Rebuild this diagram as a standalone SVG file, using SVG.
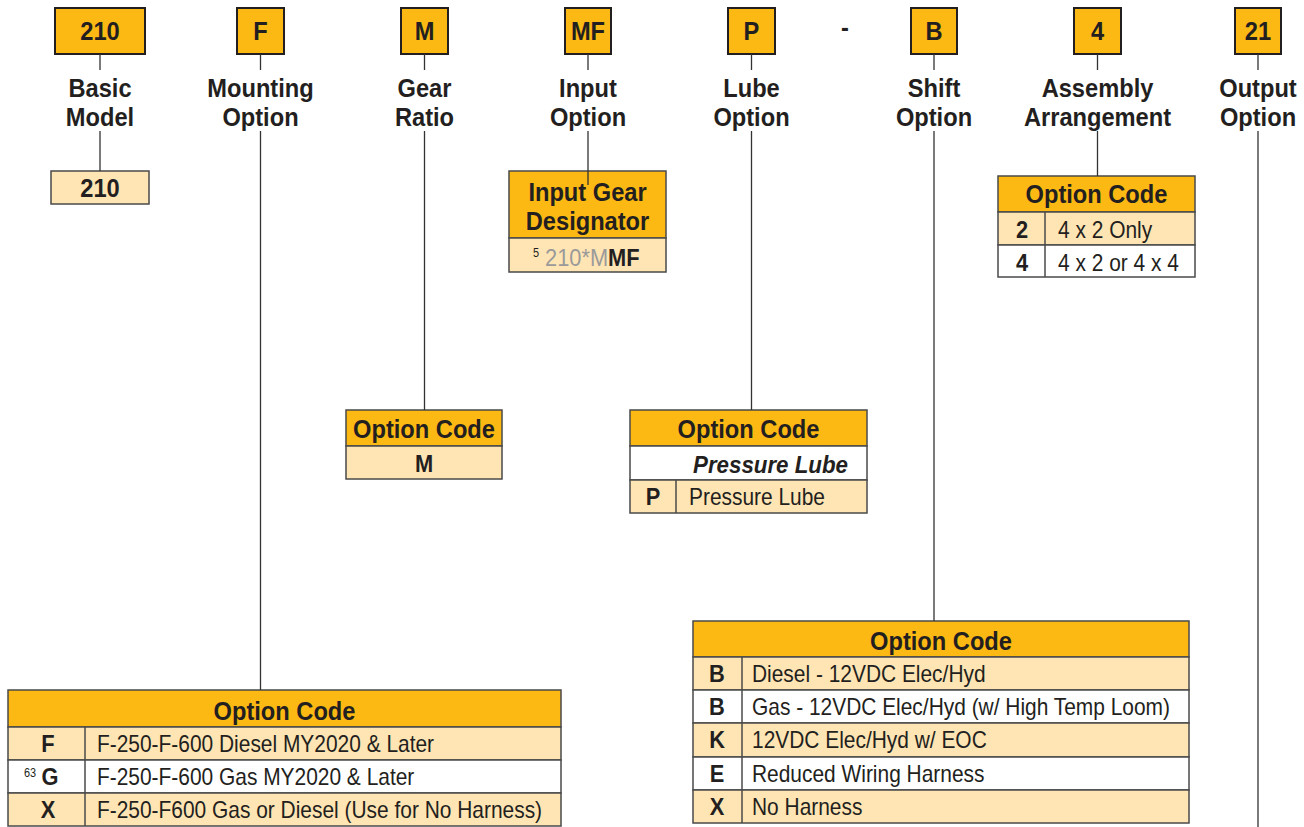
<svg xmlns="http://www.w3.org/2000/svg" width="1304" height="827" viewBox="0 0 1304 827">
<style>
.hb{fill:#FDB913;stroke:#231F20;stroke-width:2}
.or{fill:#FDB913;stroke:#4a4a4a;stroke-width:1.5}
.pl{fill:#FFE5B4;stroke:#4a4a4a;stroke-width:1.5}
.wh{fill:#FFFFFF;stroke:#4a4a4a;stroke-width:1.5}
.dv{stroke:#4a4a4a;stroke-width:1.5}
text{font-family:"Liberation Sans",Arial,sans-serif;fill:#231F20}
.h{font-size:26px;font-weight:bold;text-anchor:middle;transform-box:fill-box;transform-origin:center;transform:scaleX(0.91)}
.k{font-size:24px;font-weight:bold;text-anchor:middle;transform-box:fill-box;transform-origin:center;transform:scaleX(0.91)}
.r{font-size:23px;transform-box:fill-box;transform-origin:left center;transform:scaleX(0.91)}
.sup{font-size:12px;transform-box:fill-box;transform-origin:left center;transform:scaleX(0.91)}
.cn{stroke:#333333;stroke-width:1.3;fill:none}
</style>
<rect width="1304" height="827" fill="#FFFFFF"/>

<g id="basic-model">
<rect class="hb" x="55" y="8" width="90" height="46"/>
<text class="h" x="100" y="40">210</text>
<text class="h" x="100" y="97">Basic</text>
<text class="h" x="100" y="126">Model</text>
<rect class="pl" x="51" y="171" width="98" height="33"/>
<text class="h" x="100" y="197">210</text>
</g>

<g id="mounting-option">
<rect class="hb" x="237" y="8" width="47" height="46"/>
<text class="h" x="260.5" y="40">F</text>
<text class="h" x="260.5" y="97">Mounting</text>
<text class="h" x="260.5" y="126">Option</text>
</g>

<g id="gear-ratio">
<rect class="hb" x="401" y="8" width="47" height="46"/>
<text class="h" x="424.5" y="40">M</text>
<text class="h" x="424.5" y="97">Gear</text>
<text class="h" x="424.5" y="126">Ratio</text>
</g>

<g id="input-option">
<rect class="hb" x="565" y="8" width="46" height="46"/>
<text class="h" x="588" y="40">MF</text>
<text class="h" x="588" y="97">Input</text>
<text class="h" x="588" y="126">Option</text>
</g>

<g id="lube-option">
<rect class="hb" x="728" y="8" width="47" height="46"/>
<text class="h" x="751.5" y="40">P</text>
<text class="h" x="751.5" y="97">Lube</text>
<text class="h" x="751.5" y="126">Option</text>
</g>

<g id="dash">
<text class="h" x="845" y="36">-</text>
</g>

<g id="shift-option">
<rect class="hb" x="911" y="8" width="46" height="46"/>
<text class="h" x="934" y="40">B</text>
<text class="h" x="934" y="97">Shift</text>
<text class="h" x="934" y="126">Option</text>
</g>

<g id="assembly-arrangement">
<rect class="hb" x="1074" y="8" width="47" height="46"/>
<text class="h" x="1097.5" y="40">4</text>
<text class="h" x="1097.5" y="97">Assembly</text>
<text class="h" x="1097.5" y="126">Arrangement</text>
</g>

<g id="output-option">
<rect class="hb" x="1235" y="8" width="46" height="46"/>
<text class="h" x="1258" y="40">21</text>
<text class="h" x="1258" y="97">Output</text>
<text class="h" x="1258" y="126">Option</text>
</g>

<g id="input-gear-designator">
<rect class="or" x="509" y="171" width="157" height="67"/>
<text class="h" x="587.5" y="201">Input Gear</text>
<text class="h" x="587.5" y="230">Designator</text>
<rect class="pl" x="509" y="238" width="157" height="34"/>
<text class="sup" x="533" y="257">5</text>
<text class="r" x="545" y="266" style="font-size:24px;fill:#9A9A9A">210*M<tspan style="font-weight:bold;fill:#231F20">MF</tspan></text>
</g>

<g id="assembly-table">
<rect class="or" x="998" y="176" width="197" height="36"/>
<text class="h" x="1096.5" y="203">Option Code</text>
<rect class="pl" x="998" y="212" width="197" height="33"/>
<rect class="wh" x="998" y="245" width="197" height="32"/>
<line class="dv" x1="1045" y1="212" x2="1045" y2="277"/>
<text class="k" x="1022" y="238">2</text>
<text class="r" x="1058" y="238">4 x 2 Only</text>
<text class="k" x="1022" y="271">4</text>
<text class="r" x="1058" y="271">4 x 2 or 4 x 4</text>
</g>

<g id="gear-ratio-table">
<rect class="or" x="346" y="410" width="156" height="36"/>
<text class="h" x="424" y="438">Option Code</text>
<rect class="pl" x="346" y="446" width="156" height="33"/>
<text class="k" x="424" y="472">M</text>
</g>

<g id="lube-table">
<rect class="or" x="630" y="410" width="237" height="36"/>
<text class="h" x="748.5" y="438">Option Code</text>
<rect class="wh" x="630" y="446" width="237" height="34"/>
<text x="770.5" y="473" style="font-size:24px;font-weight:bold;font-style:italic;text-anchor:middle;transform-box:fill-box;transform-origin:center;transform:scaleX(0.93)">Pressure Lube</text>
<rect class="pl" x="630" y="480" width="237" height="33"/>
<line class="dv" x1="676" y1="480" x2="676" y2="513"/>
<text class="k" x="653" y="505">P</text>
<text class="r" x="689" y="505">Pressure Lube</text>
</g>

<g id="shift-table">
<rect class="or" x="693" y="621" width="496" height="36"/>
<text class="h" x="941" y="650">Option Code</text>
<rect class="pl" x="693" y="657" width="496" height="33"/>
<rect class="wh" x="693" y="690" width="496" height="33"/>
<rect class="pl" x="693" y="723" width="496" height="34"/>
<rect class="wh" x="693" y="757" width="496" height="33"/>
<rect class="pl" x="693" y="790" width="496" height="33"/>
<line class="dv" x1="742" y1="657" x2="742" y2="823"/>
<text class="k" x="717" y="682">B</text>
<text class="r" x="752" y="682">Diesel - 12VDC Elec/Hyd</text>
<text class="k" x="717" y="715">B</text>
<text class="r" x="752" y="715">Gas - 12VDC Elec/Hyd (w/ High Temp Loom)</text>
<text class="k" x="717" y="748">K</text>
<text class="r" x="752" y="748">12VDC Elec/Hyd w/ EOC</text>
<text class="k" x="717" y="782">E</text>
<text class="r" x="752" y="782">Reduced Wiring Harness</text>
<text class="k" x="717" y="815">X</text>
<text class="r" x="752" y="815">No Harness</text>
</g>

<g id="mounting-table">
<rect class="or" x="8" y="690" width="553" height="37"/>
<text class="h" x="284.5" y="720">Option Code</text>
<rect class="pl" x="8" y="727" width="553" height="33"/>
<rect class="wh" x="8" y="760" width="553" height="33"/>
<rect class="pl" x="8" y="793" width="553" height="33"/>
<line class="dv" x1="85" y1="727" x2="85" y2="826"/>
<text class="k" x="48" y="752">F</text>
<text class="r" x="97" y="752">F-250-F-600 Diesel MY2020 &amp; Later</text>
<text class="sup" x="24" y="777">63</text>
<text class="k" x="50" y="785">G</text>
<text class="r" x="97" y="785">F-250-F-600 Gas MY2020 &amp; Later</text>
<text class="k" x="48" y="818">X</text>
<text class="r" x="97" y="818">F-250-F600 Gas or Diesel (Use for No Harness)</text>
</g>

<g id="connectors">
<path class="cn" d="M100 54V70M100 131V171"/>
<path class="cn" d="M260.5 54V70M260.5 131V690"/>
<path class="cn" d="M424.5 54V70M424.5 131V410"/>
<path class="cn" d="M588 54V70M588 131V185"/>
<path class="cn" d="M751.5 54V70M751.5 131V410"/>
<path class="cn" d="M934 54V70M934 131V621"/>
<path class="cn" d="M1097.5 54V70M1097.5 131V176"/>
<path class="cn" d="M1258 54V70M1258 131V827"/>
</g>
</svg>
